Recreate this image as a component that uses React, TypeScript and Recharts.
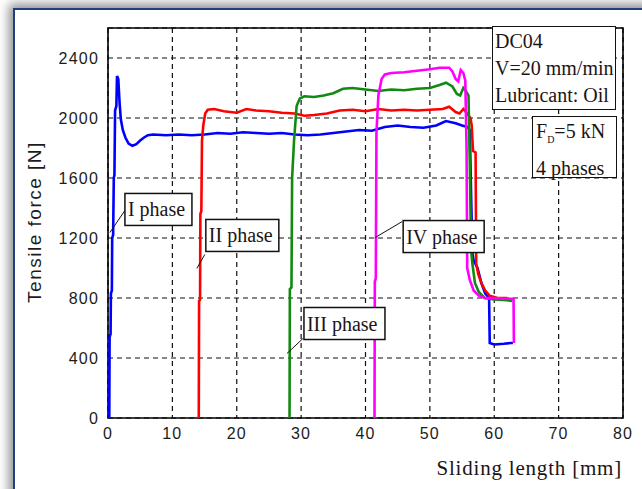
import React from 'react';
import { LineChart, Line, XAxis, YAxis, CartesianGrid, ReferenceArea, ReferenceDot } from 'recharts';

// sliding length [mm], tensile force [N] for each phase
const phaseI: [number, number][] = [
    [0.2, 0], [0.25, 540], [0.4, 560], [0.45, 830], [0.6, 850], [0.65, 1200], [0.8, 1220], [0.9, 1600],
    [1.0, 1620], [1.1, 2050], [1.3, 2080], [1.4, 2280], [1.6, 2260], [1.8, 2100], [2.0, 1990], [2.3, 1920],
    [2.7, 1870], [3.2, 1830], [3.8, 1815], [4.4, 1825], [5.0, 1850], [5.6, 1870], [6.2, 1885], [7, 1890],
    [9, 1885], [11, 1890], [13, 1885], [15, 1890], [17, 1900], [19, 1895], [21, 1905], [23, 1900],
    [25, 1895], [27, 1900], [29, 1890], [31, 1885], [33, 1890], [35, 1900], [37, 1910], [39, 1920],
    [41, 1915], [43, 1940], [45, 1950], [47, 1940], [49, 1935], [51, 1950], [52.5, 1980], [54, 1965],
    [55, 1950], [55.8, 1940], [56.2, 1920], [56.4, 1500], [56.6, 1100], [56.8, 1050], [57.4, 1000],
    [58, 900], [58.6, 830], [59.2, 800], [59.3, 500], [60, 490], [61.5, 495], [62.6, 500], [62.9, 500],
];
const phaseII: [number, number][] = [
    [14.1, 0], [14.15, 780], [14.3, 790], [14.35, 1360], [14.5, 1380], [14.6, 1850], [14.8, 1950],
    [15.1, 2030], [15.5, 2055], [16.5, 2060], [18, 2045], [20, 2035], [21.5, 2060], [23, 2050],
    [25, 2045], [27, 2035], [29, 2030], [30.5, 2015], [32, 2020], [34, 2030], [36, 2050], [38, 2055],
    [40, 2045], [42, 2060], [44, 2050], [46, 2055], [48, 2050], [50, 2055], [52, 2060], [53, 2075],
    [54, 2040], [54.6, 2030], [55.2, 2060], [55.6, 2040], [56.3, 2000], [56.5, 1950], [56.7, 1780],
    [57.1, 1770], [57.2, 1030], [57.5, 960], [58, 900], [58.6, 850], [59.3, 815], [60.5, 800], [62, 800],
];
const phaseIII: [number, number][] = [
    [28.2, 0], [28.25, 860], [28.5, 870], [28.6, 1600], [28.9, 1850], [29.3, 2080], [29.8, 2130],
    [30.5, 2145], [32, 2140], [33.5, 2150], [35, 2165], [36.5, 2195], [38, 2200], [40, 2190],
    [42, 2180], [44, 2190], [46, 2185], [48, 2195], [50, 2200], [51.5, 2220], [52.5, 2235],
    [53.5, 2210], [54.2, 2160], [54.7, 2150], [55.2, 2200], [55.6, 2180], [56, 2150], [56.2, 1700],
    [56.4, 1120], [56.6, 1030], [57, 900], [57.6, 840], [58.5, 800], [60, 790], [62, 785], [62.8, 780],
];
const phaseIV: [number, number][] = [
    [41.4, 0], [41.45, 910], [41.6, 930], [41.7, 1900], [42, 2150], [42.5, 2260], [43, 2290],
    [44, 2300], [46, 2305], [48, 2315], [50, 2325], [51.5, 2335], [53, 2335], [53.5, 2310],
    [54, 2260], [54.4, 2245], [54.8, 2320], [55.2, 2300], [55.5, 2250], [55.7, 1800], [55.8, 1000],
    [56.2, 920], [56.8, 850], [57.6, 815], [58.5, 800], [60, 800], [62, 795], [63, 795], [63.05, 500],
];

const xTicks = [0, 10, 20, 30, 40, 50, 60, 70, 80];
const yTicks = [0, 400, 800, 1200, 1600, 2000, 2400];

const phaseNames = ['I phase', 'II phase', 'III phase', 'IV phase'];
const phaseAnchors: [number, number][] = [[0.3, 1237], [13.8, 997], [27.8, 430], [41.5, 1203]];

const series = [
    { name: 'I', data: phaseI, color: '#0000ff' },
    { name: 'II', data: phaseII, color: '#ff0000' },
    { name: 'III', data: phaseIII, color: '#128a12' },
    { name: 'IV', data: phaseIV, color: '#ff00ff' },
];

// box placement relative to the leader's start point (pixels)
const calloutBoxes = [
    { dx: 15, dy: -39, w: 67, lx: 15, ly: -22 },
    { dx: 9, dy: -49, w: 73, lx: 8, ly: -14 },
    { dx: 17, dy: -46, w: 81, lx: 16, ly: -15 },
    { dx: 28, dy: -17, w: 81, lx: 27, ly: -16 },
];

const serif = '"Liberation Serif", "Times New Roman", serif';
const sans = '"Liberation Sans", Arial, sans-serif';
const tickStyle = { fill: '#1c1c1c', fontSize: 16, fontFamily: sans, letterSpacing: 1.2 };

const Callout = (props: any) => {
    const { cx, cy, label, box } = props;
    if (cx == null || cy == null) return null;
    return (
        <g>
            <line x1={cx} y1={cy} x2={cx + box.lx} y2={cy + box.ly} stroke="#111" strokeWidth={1} />
            <rect x={cx + box.dx} y={cy + box.dy} width={box.w} height={32} fill="#fff" stroke="#111" strokeWidth={1.5} />
            <text x={cx + box.dx + 3} y={cy + box.dy + 23} fontFamily={serif} fontSize={20} fill="#1c1414">
                {label}
            </text>
        </g>
    );
};

const App: React.FC = () => {
    return (
        <div style={{ position: 'absolute', left: 0, top: 0, width: 642, height: 489, overflow: 'hidden', background: '#fff' }}>
            <div
                style={{
                    position: 'absolute', left: 13, top: 8, width: 700, height: 600, background: '#fff',
                    borderLeft: '2px solid #203f7c', borderTop: '2px solid #203f7c',
                    boxShadow: '-4px -4px 10px rgba(0,0,0,0.45)',
                }}
            />
            <div style={{ position: 'absolute', left: 0, top: 0 }}>
                <LineChart width={642} height={489} margin={{ top: 28, right: 19, bottom: 41, left: 48 }}>
                    <CartesianGrid stroke="#111" strokeDasharray="5 4" strokeWidth={1.2} />
                    <XAxis
                        type="number" dataKey="x" domain={[0, 80]} ticks={xTicks} allowDataOverflow
                        axisLine={false} tickLine={false} tickSize={6} tickMargin={4} height={30}
                        tick={tickStyle}
                    />
                    <YAxis
                        type="number" domain={[0, 2600]} ticks={yTicks} allowDataOverflow
                        axisLine={false} tickLine={false} tickSize={6} tickMargin={3} width={60}
                        tick={tickStyle}
                    />
                    <ReferenceArea x1={0} x2={80} y1={0} y2={2600} fill="none" stroke="#000" strokeWidth={1.6} ifOverflow="visible" />
                    {series.map((s) => (
                        <Line
                            key={s.name}
                            data={s.data.map(([x, y]) => ({ x, y }))}
                            dataKey="y"
                            type="linear"
                            stroke={s.color}
                            strokeWidth={2.6}
                            dot={false}
                            isAnimationActive={false}
                        />
                    ))}
                    {phaseAnchors.map(([x, y], i) => (
                        <ReferenceDot
                            key={phaseNames[i]}
                            x={x}
                            y={y}
                            r={1}
                            ifOverflow="visible"
                            shape={(p: any) => <Callout {...p} label={phaseNames[i]} box={calloutBoxes[i]} />}
                        />
                    ))}
                </LineChart>
            </div>
            <div
                style={{
                    position: 'absolute', left: 35 - 100, top: 222 - 12, width: 200, height: 24, lineHeight: '24px',
                    textAlign: 'center', transform: 'rotate(-90deg)', fontFamily: sans, fontSize: 19,
                    letterSpacing: 1.5, color: '#1c1c1c',
                }}
            >
                Tensile force [N]
            </div>
            <div
                style={{
                    position: 'absolute', left: 400, top: 455, width: 222, textAlign: 'right', fontFamily: serif,
                    fontSize: 21, letterSpacing: 0.8, color: '#1c1414', lineHeight: '26px',
                }}
            >
                Sliding length [mm]
            </div>
            <div
                style={{
                    position: 'absolute', left: 492, top: 26, width: 120, height: 82, background: '#fff',
                    border: '1.5px solid #111', fontFamily: serif, fontSize: 20, lineHeight: '27px',
                    color: '#1c1414', paddingLeft: 2, whiteSpace: 'nowrap', boxSizing: 'content-box',
                }}
            >
                <div style={{ marginTop: 1 }}>DC04</div>
                <div>V=20 mm/min</div>
                <div>Lubricant: Oil</div>
            </div>
            <div
                style={{
                    position: 'absolute', left: 532, top: 116, width: 80, height: 60, background: '#fff',
                    border: '1.5px solid #111', fontFamily: serif, fontSize: 20, lineHeight: '29px',
                    color: '#1c1414', paddingLeft: 3, whiteSpace: 'nowrap', boxSizing: 'content-box',
                }}
            >
                <div>
                    F<sub style={{ fontSize: 10 }}>D</sub>=5 kN
                </div>
                <div>4 phases</div>
            </div>
        </div>
    );
};

export default App;
